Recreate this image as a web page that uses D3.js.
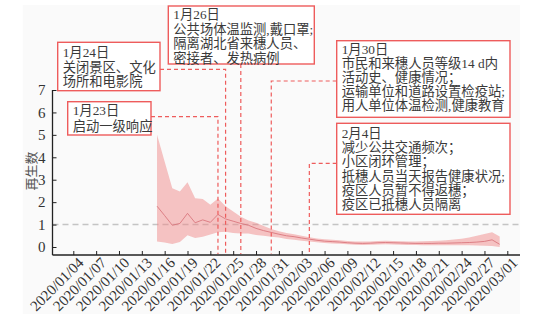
<!DOCTYPE html>
<html><head><meta charset="utf-8">
<script src="https://cdn.jsdelivr.net/npm/d3@7"></script>
<style>body{margin:0;background:#fff}svg{display:block}</style>
</head><body><svg id="c" width="552" height="314"></svg>
<script>
// ---------- data ----------
const dates = ["2020/01/15","2020/01/16","2020/01/17","2020/01/18","2020/01/19","2020/01/20","2020/01/21","2020/01/22",
"2020/01/23","2020/01/24","2020/01/25","2020/01/26","2020/01/27","2020/01/28","2020/01/29","2020/01/30","2020/01/31",
"2020/02/01","2020/02/02","2020/02/03","2020/02/04","2020/02/05","2020/02/06","2020/02/07","2020/02/08","2020/02/09",
"2020/02/10","2020/02/11","2020/02/12","2020/02/13","2020/02/14","2020/02/15","2020/02/16","2020/02/17","2020/02/18",
"2020/02/19","2020/02/20","2020/02/21","2020/02/22","2020/02/23","2020/02/24","2020/02/25","2020/02/26","2020/02/27",
"2020/02/28","2020/02/29"];
const rMedian = [1.82,1.40,0.97,1.05,1.50,1.08,1.21,1.10,1.45,1.25,1.15,1.05,0.97,0.83,0.73,0.65,0.57,0.50,0.46,0.40,
0.35,0.30,0.26,0.24,0.22,0.19,0.17,0.16,0.17,0.19,0.20,0.19,0.18,0.17,0.16,0.16,0.16,0.17,0.17,0.18,0.19,0.20,0.22,0.25,0.32,0.12];
const rLower = [0.25,0.20,0.13,0.22,0.52,0.40,0.46,0.56,0.66,0.68,0.62,0.60,0.60,0.54,0.50,0.46,0.42,0.36,0.32,0.28,
0.25,0.21,0.18,0.16,0.14,0.12,0.10,0.09,0.10,0.11,0.12,0.11,0.10,0.09,0.09,0.08,0.08,0.08,0.08,0.08,0.08,0.08,0.07,0.06,0.04,0.00];
const rUpper = [5.00,3.80,2.62,2.47,2.89,2.17,2.14,1.88,2.16,1.82,1.58,1.35,1.18,1.08,0.94,0.80,0.70,0.62,0.57,0.50,
0.44,0.38,0.34,0.32,0.30,0.27,0.25,0.24,0.25,0.27,0.28,0.27,0.26,0.25,0.25,0.26,0.27,0.28,0.30,0.33,0.37,0.42,0.50,0.58,0.66,0.47];
const yTicks = [0,1,2,3,4,5,6,7];
const xTickLabels = ["2020/01/04","2020/01/07","2020/01/10","2020/01/13","2020/01/16","2020/01/19","2020/01/22",
"2020/01/25","2020/01/28","2020/01/31","2020/02/03","2020/02/06","2020/02/09","2020/02/12","2020/02/15","2020/02/18",
"2020/02/21","2020/02/24","2020/02/27","2020/03/01"];
const yLabel = "再生数";
const eventDates = ["2020/01/23","2020/01/24","2020/01/26","2020/01/30","2020/02/04"];
const eventTexts = [
  ["1月23日","启动一级响应"],
  ["1月24日","关闭景区、文化","场所和电影院"],
  ["1月26日","公共场体温监测,戴口罩;","隔离湖北省来穗人员、","密接者、发热病例"],
  ["1月30日","市民和来穗人员等级14 d内","活动史、健康情况；","运输单位和道路设置检疫站;","用人单位体温检测,健康教育"],
  ["2月4日","减少公共交通频次；","小区闭环管理；","抵穗人员当天报告健康状况;","疫区人员暂不得返穗；","疫区已抵穗人员隔离"]
];

// ---------- layout (positions / styles) ----------
const boxLayout = [
  {x:67.7, y:101.7, w:83.3, h:33.3, y0:110.5, lh:15.5, side:"right", cy:116.7},
  {x:57.7, y:42.3, w:102.3, h:48.4, y0:52.5, lh:14.6, side:"right", cy:69.3},
  {x:168.3, y:6, w:146, h:58, y0:14.5, lh:14.6, side:"bottom"},
  {x:336.7, y:40.7, w:173.3, h:76.6, y0:49.5, lh:13.9, side:"left", cy:81},
  {x:336.7, y:123.3, w:173.3, h:91, y0:133.5, lh:14.2, side:"left", cy:163.3}
];
const FONT = "'Liberation Serif','Noto Sans CJK SC',serif";
const axisY = 255, plotL = 52.5, plotR = 520;

const parse = d3.timeParse("%Y/%m/%d");
const x = d3.scaleTime().domain([parse("2020/01/04"), parse("2020/03/01")]).range([73.3, 507.3]);
const y = d3.scaleLinear().domain([0,7]).range([247, 90]);

const svg = d3.select("#c");
svg.append("rect").attr("x",22.7).attr("y",5).attr("width",plotR-22.7).attr("height",309).attr("fill","#fafafa");

const data = dates.map((d,i)=>({date:parse(d), m:rMedian[i], lo:rLower[i], hi:rUpper[i]}));

// reference line R=1
svg.append("line").attr("x1",plotL).attr("x2",plotR).attr("y1",y(1)).attr("y2",y(1))
  .attr("stroke","#c4c4c4").attr("stroke-width",1.4).attr("stroke-dasharray","6,4");

// ribbon
svg.append("path").datum(data)
  .attr("d", d3.area().x(d=>x(d.date)).y0(d=>y(d.lo)).y1(d=>y(d.hi)))
  .attr("fill","#f08a8a").attr("fill-opacity",0.5);
svg.append("path").datum(data)
  .attr("d", d3.line().x(d=>x(d.date)).y(d=>y(d.m)))
  .attr("fill","none").attr("stroke","#d8737a").attr("stroke-width",1).attr("stroke-opacity",0.85);

// axes
const gy = svg.append("g").attr("transform",`translate(${plotL},0)`)
  .call(d3.axisLeft(y).tickValues(yTicks).tickFormat(d3.format("d")).tickSizeInner(-4).tickSizeOuter(0).tickPadding(7));
gy.select(".domain").remove();
gy.selectAll("line").attr("stroke","#222");
gy.selectAll("text").attr("font-family",FONT).attr("font-size",15).attr("fill","#333");
svg.append("line").attr("x1",plotL).attr("x2",plotL).attr("y1",y(7)).attr("y2",axisY).attr("stroke","#222").attr("stroke-width",1.3);

const gx = svg.append("g").attr("transform",`translate(0,${axisY})`)
  .call(d3.axisBottom(x).tickValues(xTickLabels.map(parse)).tickSizeInner(-4).tickSizeOuter(0)
    .tickFormat((d,i)=>xTickLabels[i]));
gx.select(".domain").remove();
gx.selectAll("line").attr("stroke","#222");
gx.selectAll("text").attr("font-family",FONT).attr("font-size",15).attr("fill","#333")
  .attr("text-anchor","end").attr("x",1.5).attr("y",8.5).attr("dy","0.35em").attr("transform","rotate(-45)");
svg.append("line").attr("x1",plotL).attr("x2",plotR).attr("y1",axisY).attr("y2",axisY).attr("stroke","#222").attr("stroke-width",1.3);

// y label
svg.append("text").attr("transform",`translate(31,171) rotate(-90)`).attr("text-anchor","middle")
  .attr("dominant-baseline","central").attr("font-family",FONT).attr("font-size",13).attr("fill","#555").text(yLabel);

// annotations
const RED = "#ee5c5c";
eventDates.forEach((ds,i)=>{
  const b = boxLayout[i];
  const ex = x(parse(ds));
  let pts;
  if (b.side==="right") pts = [[b.x+b.w,b.cy],[ex,b.cy],[ex,axisY-1]];
  else if (b.side==="left") pts = [[b.x,b.cy],[ex,b.cy],[ex,axisY-1]];
  else pts = [[ex,b.y+b.h],[ex,axisY-1]];
  svg.append("path").attr("d",d3.line()(pts)).attr("fill","none").attr("stroke",RED)
    .attr("stroke-width",1.2).attr("stroke-dasharray","4,3");
  svg.append("rect").attr("x",b.x).attr("y",b.y).attr("width",b.w).attr("height",b.h)
    .attr("fill","#fff").attr("stroke",RED).attr("stroke-width",1.4);
  const t = svg.append("g");
  eventTexts[i].forEach((line,j)=>{
    t.append("text").attr("x",b.x+5).attr("y",b.y0+j*b.lh).attr("dominant-baseline","central")
      .attr("font-family",FONT).attr("font-size",13.3).attr("fill","#3a3a3a").text(line);
  });
});
</script>
</body></html>
